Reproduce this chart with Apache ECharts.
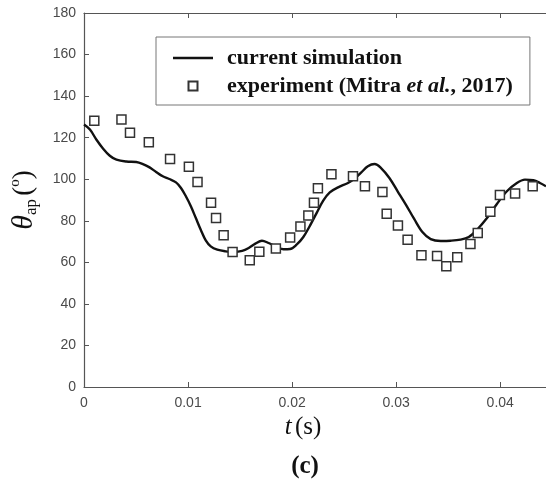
<!DOCTYPE html>
<html>
<head>
<meta charset="utf-8">
<script src="https://cdn.jsdelivr.net/npm/echarts@6/dist/echarts.min.js"></script>
<style>
html,body{margin:0;padding:0;background:#fff;}
#main{width:546px;height:479px;}
</style>
</head>
<body>
<div id="main"></div>
<script>
// current simulation: t (s), theta (deg)
var simT = [0, 0.00057, 0.0012, 0.00184, 0.00248, 0.00312, 0.00407, 0.00502, 0.00566, 0.0063, 0.00693,
	0.00757, 0.0082, 0.00884, 0.00932, 0.00979, 0.01027, 0.01075, 0.01122, 0.0117, 0.01218, 0.01281,
	0.01361, 0.0144, 0.0152, 0.01583, 0.01647, 0.0171, 0.01774, 0.01853, 0.01917, 0.0198, 0.02043,
	0.02108, 0.02172, 0.02235, 0.02299, 0.02362, 0.02442, 0.02537, 0.02601, 0.02665, 0.02728, 0.02792,
	0.02855, 0.02935, 0.03014, 0.03093, 0.03173, 0.03252, 0.03332, 0.03428, 0.03523, 0.03618, 0.03698,
	0.03777, 0.03873, 0.03968, 0.04064, 0.0416, 0.04238, 0.04318, 0.04382, 0.0444];
var simTheta = [126.3, 123.9, 119.0, 114.7, 111.3, 109.4, 108.5, 108.3, 107.3, 105.7, 103.5,
	101.4, 100.1, 98.5, 95.8, 91.8, 87.0, 81.3, 75.7, 70.6, 67.7, 66.1,
	65.3, 65.0, 65.5, 66.9, 69.0, 70.4, 69.3, 67.4, 66.3, 66.4, 68.5,
	72.2, 77.7, 83.7, 89.7, 93.7, 96.1, 98.2, 100.3, 103.3, 106.2, 107.3,
	105.4, 100.6, 94.2, 87.8, 80.9, 74.6, 71.2, 70.3, 70.4, 70.9, 72.2,
	75.7, 81.3, 88.1, 94.2, 98.2, 99.8, 99.5, 98.2, 96.6];
// experiment (Mitra et al., 2017)
var expT = [0.00099, 0.0036, 0.00442, 0.00623, 0.00827, 0.01008, 0.01091, 0.01221, 0.01269, 0.01342,
	0.01428, 0.01593, 0.01685, 0.01844, 0.01981, 0.0208, 0.02156, 0.0221, 0.02248, 0.02378,
	0.02585, 0.027, 0.02868, 0.02909, 0.03017, 0.0311, 0.03243, 0.03393, 0.03482, 0.03587,
	0.03714, 0.03784, 0.03905, 0.03997, 0.04143, 0.04312];
var expTheta = [128.2, 128.7, 122.4, 117.8, 109.7, 106.0, 98.7, 88.7, 81.3, 73.0,
	65.0, 61.0, 65.1, 66.7, 71.9, 77.2, 82.5, 88.7, 95.6, 102.4,
	101.4, 96.6, 93.9, 83.4, 77.7, 70.9, 63.4, 63.1, 58.1, 62.4,
	68.8, 74.1, 84.4, 92.4, 93.1, 96.6];
var xTicks = [0, 0.01, 0.02, 0.03, 0.04];
var yTicks = [0, 20, 40, 60, 80, 100, 120, 140, 160, 180];

var chart = echarts.init(document.getElementById('main'));

function zip(a, b){
	var out = [];
	for(var i=0;i<a.length;i++){
		out.push([a[i], b[i]]);
	}
	return out;
}

var axisGray = '#555';
var serif = 'Liberation Serif, Times New Roman';
var labelStyle = {color:'#4a4a4a', fontFamily:'Liberation Sans, Arial', fontSize:14};

var option = {
	animation: false,
	title: {
		text: '(c)',
		left: 300,
		top: 449,
		textAlign: 'center',
		textStyle: {fontFamily:serif, fontWeight:'bold', fontSize:25, color:'#111'}
	},
	grid: {left:81, right:0, top:13, bottom:92},
	legend: {
		orient: 'vertical',
		left: 156,
		top: 37,
		padding: [10, 17, 8, 17],
		itemGap: 6,
		itemWidth: 40,
		itemHeight: 9,
		symbolKeepAspect: true,
		borderColor: '#777',
		borderWidth: 1,
		data: [
			{name:'current simulation', icon:'path://M0,0H40V2.6H0Z', itemStyle:{color:'#111'}},
			{name:'experiment (Mitra et al., 2017)', icon:'path://M0,0H10V10H0Z'}
		],
		formatter: function(name){
			if(name.indexOf('experiment')===0){
				return '{b|experiment (Mitra }{i|et al.}{b|, 2017)}';
			}
			return '{b|' + name + '}';
		},
		textStyle: {
			padding: [0, 0, 0, 9],
			lineHeight: 20,
			rich: {
				b: {fontFamily:serif, fontWeight:'bold', fontSize:22, color:'#111', lineHeight:20},
				i: {fontFamily:serif, fontWeight:'bold', fontStyle:'italic', fontSize:22, color:'#111', lineHeight:20}
			}
		}
	},
	xAxis: [{
		type: 'value',
		min: 0,
		max: 0.0444,
		interval: 0.01,
		name: '{i|t} {n|(s)}',
		nameLocation: 'middle',
		nameGap: 28,
		nameTextStyle: {
			padding: [0, 24, 0, 0],
			rich: {
				i: {fontFamily:serif, fontStyle:'italic', fontSize:25, color:'#111'},
				n: {fontFamily:serif, fontSize:25, color:'#111'}
			}
		},
		axisLine: {lineStyle:{color:axisGray, width:1.2}},
		axisTick: {inside:true, length:5, lineStyle:{color:axisGray}},
		axisLabel: {
			margin: 9,
			showMaxLabel: false,
			color: labelStyle.color, fontFamily: labelStyle.fontFamily, fontSize: labelStyle.fontSize,
			formatter: function(v){
				for(var i=0;i<xTicks.length;i++){
					if(Math.abs(v - xTicks[i]) < 1e-9){ return String(xTicks[i]); }
				}
				return '';
			}
		},
		splitLine: {show:false}
	}, {
		type: 'value',
		position: 'top',
		min: 0,
		max: 0.0444,
		interval: 0.01,
		axisLine: {lineStyle:{color:axisGray, width:1.2}},
		axisTick: {inside:true, length:5, lineStyle:{color:axisGray}},
		axisLabel: {show:false},
		splitLine: {show:false}
	}],
	yAxis: {
		type: 'value',
		min: yTicks[0],
		max: yTicks[yTicks.length-1],
		interval: 20,
		name: '{t|θ}{s|ap} {n|(}{o|o}{n|)}',
		nameLocation: 'middle',
		nameRotate: 90,
		nameGap: 44,
		nameTextStyle: {
			rich: {
				t: {fontFamily:serif, fontStyle:'italic', fontSize:30, color:'#111', lineHeight:32, verticalAlign:'middle'},
				s: {fontFamily:serif, fontSize:17, color:'#111', lineHeight:32, verticalAlign:'bottom'},
				n: {fontFamily:serif, fontSize:27, color:'#111', lineHeight:32, verticalAlign:'middle'},
				o: {fontFamily:serif, fontSize:15, color:'#111', lineHeight:32, verticalAlign:'top'}
			}
		},
		axisLine: {show:true, lineStyle:{color:axisGray, width:1.2}},
		axisTick: {show:true, inside:true, length:5, lineStyle:{color:axisGray}},
		axisLabel: {margin:8, color: labelStyle.color, fontFamily: labelStyle.fontFamily, fontSize: labelStyle.fontSize},
		splitLine: {show:false}
	},
	series: [{
		name: 'current simulation',
		type: 'line',
		data: zip(simT, simTheta),
		smooth: 0.35,
		symbol: 'none',
		lineStyle: {color:'#111', width:2.4},
		itemStyle: {color:'#111'},
		z: 3
	}, {
		name: 'experiment (Mitra et al., 2017)',
		type: 'scatter',
		data: zip(expT, expTheta),
		symbol: 'rect',
		symbolSize: 9,
		itemStyle: {color:'#fff', borderColor:'#333', borderWidth:1.5, opacity:1},
		z: 4
	}]
};
chart.setOption(option);
</script>
</body>
</html>
